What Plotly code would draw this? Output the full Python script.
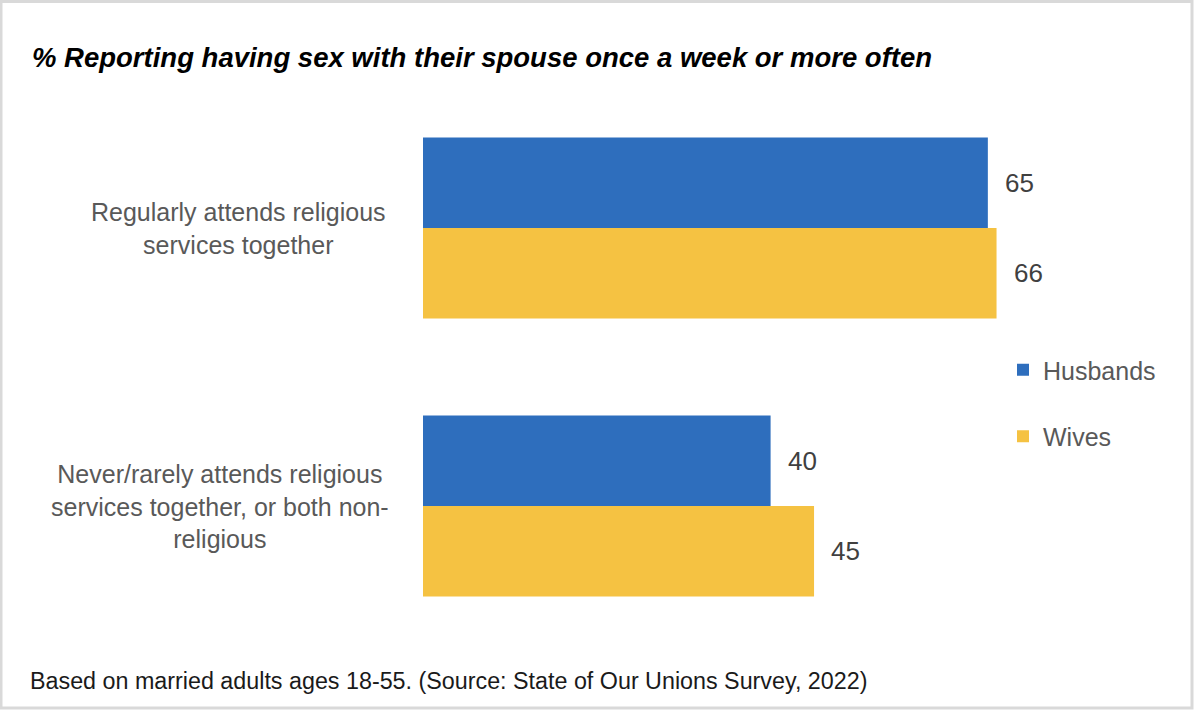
import plotly.graph_objects as go

categories = ["Regularly attends religious services together",
              "Never/rarely attends religious services together, or both non-religious"]
category_labels = ["Regularly attends religious<br>services together",
                   "Never/rarely attends religious<br>services together, or both non-<br>religious"]
husbands = [65, 40]
wives = [66, 45]
series_names = ["Husbands", "Wives"]
colors = ["#2E6EBD", "#F5C242"]
title = "% Reporting having sex with their spouse once a week or more often"
footnote = "Based on married adults ages 18-55. (Source: State of Our Unions Survey, 2022)"

W, H = 1194, 710
ARIAL = "Liberation Sans, Arial, sans-serif"

fig = go.Figure()
for i, (name, vals) in enumerate(zip(series_names, [husbands, wives])):
    fig.add_trace(go.Bar(
        y=categories, x=vals, orientation="h", name=name,
        marker=dict(color=colors[i], line=dict(width=0)),
        legendgroup=name, hoverinfo="x+name",
    ))

annotations = []
# data labels
for i, vals in enumerate([husbands, wives]):
    for j, v in enumerate(vals):
        annotations.append(dict(
            x=v, y=categories[j], xref="x", yref="y",
            text=str(v), showarrow=False, xanchor="left", yanchor="middle",
            xshift=15, yshift=(45 if i == 0 else -45),
            font=dict(family=ARIAL, size=26, color="#404040"),
        ))
# category labels
label_x = [238, 220]
for j, lab in enumerate(category_labels):
    annotations.append(dict(
        x=label_x[j] / W, y=categories[j], xref="paper", yref="y",
        text=lab, showarrow=False, xanchor="center", yanchor="middle",
        align="center", font=dict(family=ARIAL, size=25, color="#595959"),
    ))
# title
annotations.append(dict(
    x=30 / W, y=1 - 57 / H, xref="paper", yref="paper",
    text="<b><i>" + title + "</i></b>", showarrow=False,
    xanchor="left", yanchor="middle",
    font=dict(family=ARIAL, size=27.5, color="#000000"),
))
# footnote
annotations.append(dict(
    x=28 / W, y=1 - 681 / H, xref="paper", yref="paper",
    text=footnote, showarrow=False, xanchor="left", yanchor="middle",
    font=dict(family=ARIAL, size=23.3, color="#1a1a1a"),
))

fig.update_layout(
    width=W, height=H,
    margin=dict(l=0, r=0, t=0, b=0),
    paper_bgcolor="white", plot_bgcolor="white",
    barmode="group", bargap=0.349, bargroupgap=0,
    xaxis=dict(range=[0, 70], domain=[423 / W, (423 + 70 * 8.69) / W],
               showgrid=False, zeroline=False, showticklabels=False,
               showline=False, ticks=""),
    yaxis=dict(range=[1.5, -0.5], domain=[(H - 645) / H, (H - 89) / H],
               showgrid=False, zeroline=False, showticklabels=False,
               showline=False, ticks=""),
    legend=dict(x=1003 / W, y=1 - 347 / H, xanchor="left", yanchor="top",
                font=dict(family=ARIAL, size=25, color="#595959"),
                tracegroupgap=31, bgcolor="rgba(0,0,0,0)",
                traceorder="grouped"),
    annotations=annotations,
    shapes=[dict(type="rect", xref="paper", yref="paper",
                 x0=1 / W, x1=1 - 2 / W, y0=2 / H, y1=1 - 1.5 / H,
                 line=dict(color="#D9D9D9", width=3), fillcolor="rgba(0,0,0,0)")],
    showlegend=True,
)

fig.write_html("out.html", config={"displayModeBar": False},
               post_script="document.body.style.margin='0';document.body.style.padding='0';")
